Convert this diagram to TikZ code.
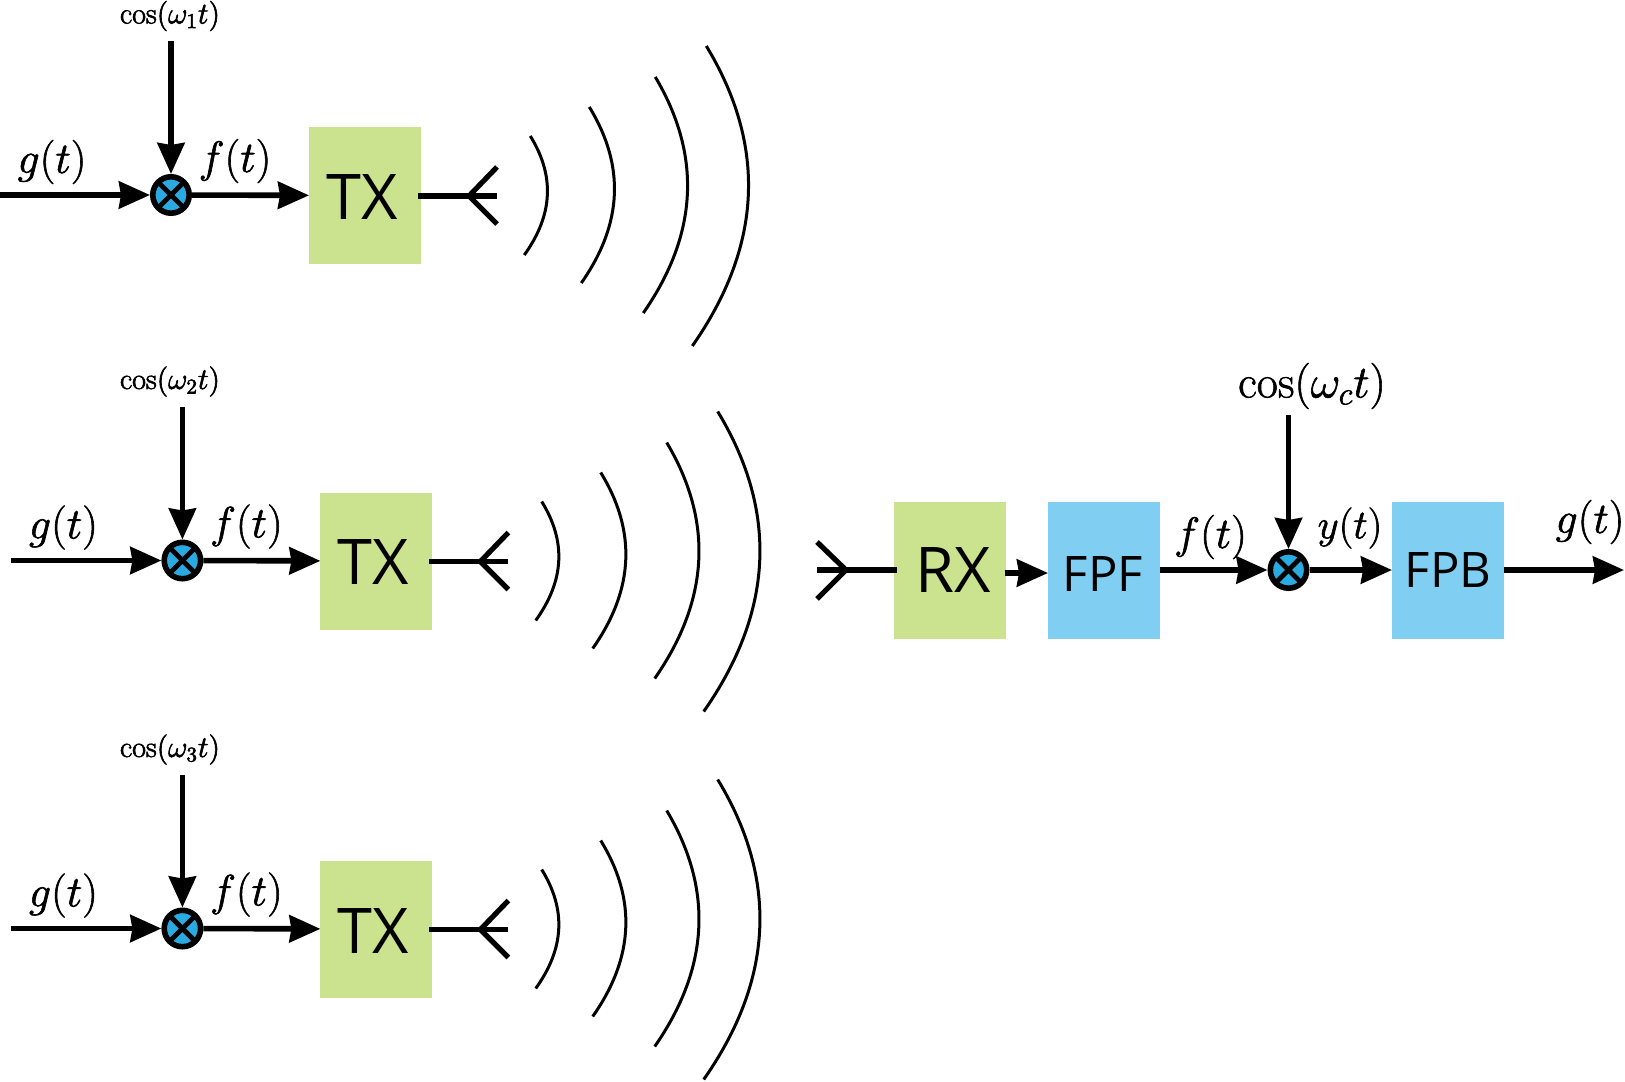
\RequirePackage{fix-cm}
\documentclass[tikz,border=0pt]{standalone}
\usepackage{amsmath}
\usepackage{fontspec}
\newfontfamily\boxfont{Open Sans}
\usetikzlibrary{arrows.meta,calc,positioning}
\definecolor{txgreen}{HTML}{CBE28E}
\definecolor{fpblue}{HTML}{80CFF2}
\definecolor{mixblue}{HTML}{29ABE2}
\newcommand{\heavy}[1]{\special{pdf:code 2 Tr 0.3 w}#1\special{pdf:code 0 Tr}}
\tikzset{
	sigflow/.style={x=.5pt, y=-.5pt},
	ar/.style={line width=2.8pt, -{Stealth[length=15.5pt,width=13.5pt,inset=1pt]}},
	wire/.style={line width=2.6pt},
	wave/.style={line width=1.5pt},
	mixer/.style={circle, draw, fill=mixblue, line width=2.8pt, minimum size=18.2pt, inner sep=0pt, outer sep=1.4pt,
		path picture={\draw[line width=2.4pt]
			(path picture bounding box.north west) -- (path picture bounding box.south east)
			(path picture bounding box.north east) -- (path picture bounding box.south west);}},
	blk/.style={minimum width=56pt, minimum height=68.5pt, inner sep=0pt, outer sep=0pt, font=\boxfont\fontsize{31.5}{30}\selectfont},
	blk small/.style={blk, font=\boxfont\fontsize{24.5}{24}\selectfont},
	sig/.style={inner sep=0pt, font=\fontsize{22}{24}\selectfont},
	sig small/.style={inner sep=0pt, font=\fontsize{15}{16}\selectfont}
}
\begin{document}
\begin{tikzpicture}[sigflow]
	\useasboundingbox (0,0) rectangle (1625,1081);
	% the three transmitters
	\foreach \i/\dx/\dy in {1/0/0, 2/11.4/365.5, 3/11.4/733.5} {
		\begin{scope}[shift={(\dx,\dy)}]
			\node[mixer] (mix\i) at (171,195) {};
			\node[blk, fill=txgreen] (tx\i) at (365,195.5) {};
			\node[blk, text=black] (txt\i) at (362,197) {TX};
			\coordinate (in\i) at (0,195);
			\coordinate (lo\i) at (171,41);
			\draw[ar] (in\i) -- (mix\i);
			\draw[ar] (lo\i) -- (mix\i);
			\draw[ar] (mix\i) -- (tx\i);
			\node[sig] (g\i) at (52,162) {\heavy{$g(t)$}};
			\node[sig] (f\i) at (235,161) {\heavy{$f(t)$}};
			% antenna
			\coordinate (ant\i) at (469,196);
			\draw[wire] (418,196) -- (497,196);
			\draw[wire] (497,167) -- (ant\i) -- (497,224);
			% waves
			\draw[wave] (530.3,136) .. controls (555,176) and (553,215) .. (524.3,255);
			\draw[wave] (589.3,107) .. controls (625.3,165.7) and (622.7,224) .. (581.3,283);
			\draw[wave] (655.3,77) .. controls (702,155.7) and (698,234.3) .. (643.3,313);
			\draw[wave] (706.3,46) .. controls (766.9,146) and (762.3,246) .. (692.3,346);
		\end{scope}
		% these labels do not move with the row
		\node[sig small] (cos\i) at (170,{16+\dy}) {\heavy{$\cos(\omega_{\i} t)$}};
	}
	% the receiver
	\node[blk, fill=txgreen] (rx) at (950,570) {};
	\node[blk, text=black] (rxt) at (953,570) {RX};
	\node[blk small, fill=fpblue] (fpf) at (1104,570) {};
	\node[blk small, text=black] (fpft) at (1103,574) {FPF};
	\node[mixer] (mixc) at (1288.5,570) {};
	\node[blk small, fill=fpblue] (fpb) at (1448,570) {};
	\node[blk small, text=black] (fpbt) at (1448,570) {FPB};
	\coordinate (antr) at (846,570);
	\draw[wire] (817,570) -- (897,570);
	\draw[wire] (817,542) -- (antr) -- (817,599);
	\coordinate (rxout) at (1004.5,573);
	\coordinate (fpfin) at (fpf.west |- rxout);
	\draw[ar] (rxout) -- (fpfin);
	\coordinate (loc) at (1288.5,415);
	\coordinate (out) at (1624,570);
	\draw[ar] (fpf) -- (mixc);
	\draw[ar] (loc) -- (mixc);
	\draw[ar] (mixc) -- (fpb);
	\draw[ar] (fpb) -- (out);
	\node[sig, font=\fontsize{23}{24}\selectfont] (cosc) at (1312,386) {\heavy{$\cos(\omega_c t)$}};
	\node[sig] (fr) at (1210.5,537) {\heavy{$f(t)$}};
	\node[sig, font=\fontsize{20.5}{24}\selectfont] (yr) at (1350,528) {\heavy{$y(t)$}};
	\node[sig] (gr) at (1590,522) {\heavy{$g(t)$}};
\end{tikzpicture}
\end{document}
